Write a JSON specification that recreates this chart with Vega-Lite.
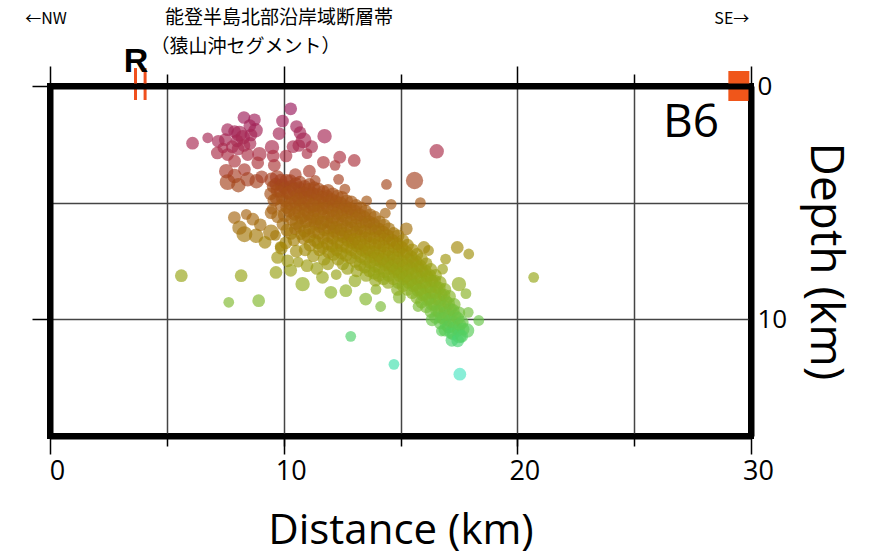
{
"$schema":"https://vega.github.io/schema/vega-lite/v6.json",
"width":701,"height":350,
"autosize":{"type":"none"},
"padding":{"left":50,"top":86,"right":120,"bottom":123},
"background":"white",
"config":{"view":{"stroke":"black","strokeWidth":6},"axis":{"labelFont":"Open Sans","titleFont":"Open Sans","labelColor":"black","titleColor":"black","titleFontWeight":"normal","domainColor":"black","tickColor":"black","labelFlush":false}},
"datasets":{
"quakes":[
{"dist":6.1,"depth":2.45,"mag":2},{"dist":6.75,"depth":2.22,"mag":1.5},{"dist":7.2,"depth":2.37,"mag":2},{"dist":7.6,"depth":1.87,"mag":2},{"dist":8.1,"depth":2.04,"mag":3},{"dist":8.3,"depth":1.35,"mag":2},{"dist":8.75,"depth":1.45,"mag":2},{"dist":8.8,"depth":1.9,"mag":2.5},{"dist":7.5,"depth":2.3,"mag":2},{"dist":8.55,"depth":1.7,"mag":2},{"dist":8.56,"depth":2.46,"mag":2},{"dist":7.16,"depth":2.87,"mag":2},{"dist":7.6,"depth":2.94,"mag":2},{"dist":8.05,"depth":2.7,"mag":2},{"dist":8.46,"depth":2.94,"mag":2},{"dist":8.96,"depth":2.92,"mag":2.5},{"dist":7.9,"depth":3.22,"mag":2},{"dist":8.32,"depth":3.58,"mag":2},{"dist":8.89,"depth":3.29,"mag":2},{"dist":7.54,"depth":3.65,"mag":2.5},{"dist":7.9,"depth":3.86,"mag":2.5},{"dist":7.6,"depth":4.12,"mag":3},{"dist":8.06,"depth":4.25,"mag":2.5},{"dist":8.46,"depth":4.0,"mag":2.5},{"dist":8.84,"depth":4.08,"mag":2.5},{"dist":9.06,"depth":3.89,"mag":2},{"dist":9.6,"depth":3.4,"mag":2},{"dist":9.5,"depth":2.62,"mag":2.5},{"dist":9.8,"depth":2.04,"mag":2},{"dist":9.95,"depth":1.5,"mag":2},{"dist":10.3,"depth":0.98,"mag":2},{"dist":10.55,"depth":1.74,"mag":2},{"dist":10.85,"depth":2.33,"mag":3},{"dist":10.4,"depth":2.6,"mag":2},{"dist":10.1,"depth":3.0,"mag":2},{"dist":9.55,"depth":3.0,"mag":2},{"dist":11.2,"depth":2.6,"mag":2},{"dist":11.75,"depth":2.15,"mag":2.5},{"dist":11.7,"depth":3.27,"mag":2},{"dist":12.4,"depth":3.05,"mag":2},{"dist":13.02,"depth":3.19,"mag":2},{"dist":11.1,"depth":3.65,"mag":2},{"dist":10.5,"depth":3.8,"mag":2},{"dist":12.2,"depth":3.4,"mag":1.5},{"dist":12.35,"depth":4.0,"mag":1.5},{"dist":16.55,"depth":2.8,"mag":2.5},{"dist":15.6,"depth":4.05,"mag":3.5},{"dist":14.4,"depth":4.22,"mag":1.5},{"dist":15.85,"depth":5.0,"mag":1.5},{"dist":14.6,"depth":5.07,"mag":1.5},{"dist":7.9,"depth":1.95,"mag":2},{"dist":8.25,"depth":2.2,"mag":2.5},{"dist":8.0,"depth":2.35,"mag":2},{"dist":8.6,"depth":2.1,"mag":2},{"dist":7.8,"depth":2.6,"mag":2},{"dist":8.3,"depth":2.55,"mag":2},{"dist":7.4,"depth":2.65,"mag":1.5},{"dist":10.7,"depth":2.0,"mag":2},{"dist":10.65,"depth":2.55,"mag":2},{"dist":11.0,"depth":2.9,"mag":1.5},
{"dist":7.89,"depth":5.64,"mag":2},{"dist":8.32,"depth":6.35,"mag":3},{"dist":8.82,"depth":6.42,"mag":2.5},{"dist":9.46,"depth":6.28,"mag":3},{"dist":8.11,"depth":6.07,"mag":2.5},{"dist":8.68,"depth":5.71,"mag":2},{"dist":9.46,"depth":5.43,"mag":2},{"dist":9.74,"depth":7.35,"mag":2},{"dist":9.67,"depth":7.99,"mag":2},{"dist":10.17,"depth":7.49,"mag":2},{"dist":10.81,"depth":8.49,"mag":2.5},{"dist":11.66,"depth":8.2,"mag":2},{"dist":12.02,"depth":8.84,"mag":2},{"dist":12.66,"depth":8.77,"mag":2},{"dist":13.51,"depth":9.13,"mag":2},{"dist":14.15,"depth":9.45,"mag":1.5},{"dist":8.18,"depth":8.13,"mag":2},{"dist":5.62,"depth":8.13,"mag":2},{"dist":7.65,"depth":9.27,"mag":1.5},{"dist":8.93,"depth":9.2,"mag":2},{"dist":9.0,"depth":5.95,"mag":2},{"dist":8.4,"depth":5.5,"mag":1.5},{"dist":9.2,"depth":6.7,"mag":2},{"dist":9.9,"depth":6.95,"mag":2},{"dist":10.3,"depth":7.9,"mag":2},{"dist":11.0,"depth":7.7,"mag":2},
{"dist":17.43,"depth":6.92,"mag":2},{"dist":17.92,"depth":7.2,"mag":1.5},{"dist":16.93,"depth":7.42,"mag":1.5},{"dist":16.0,"depth":6.92,"mag":2},{"dist":17.5,"depth":8.49,"mag":2.5},{"dist":18.35,"depth":10.05,"mag":1.5},{"dist":17.85,"depth":10.48,"mag":2.5},{"dist":12.87,"depth":10.73,"mag":1.5},{"dist":14.72,"depth":11.93,"mag":1.5},{"dist":17.54,"depth":12.35,"mag":2},{"dist":20.7,"depth":8.2,"mag":1.5},
{"dist":11.35,"depth":4.05,"mag":1.5},{"dist":12.62,"depth":4.42,"mag":1.5},{"dist":13.55,"depth":4.92,"mag":1.5},{"dist":14.35,"depth":5.45,"mag":1.5},{"dist":15.25,"depth":6.12,"mag":2},{"dist":16.2,"depth":7.05,"mag":1.5},{"dist":16.8,"depth":7.85,"mag":1.5},{"dist":10.62,"depth":7.55,"mag":1.5},{"dist":11.42,"depth":7.82,"mag":2},{"dist":12.25,"depth":8.08,"mag":1.5},{"dist":13.05,"depth":8.35,"mag":2},{"dist":13.95,"depth":8.72,"mag":1.5},{"dist":14.95,"depth":9.05,"mag":2},{"dist":15.75,"depth":9.45,"mag":1.5},{"dist":16.35,"depth":10.02,"mag":2},{"dist":16.75,"depth":10.5,"mag":1.5},{"dist":17.2,"depth":10.9,"mag":2},{"dist":17.9,"depth":9.7,"mag":1.5},{"dist":17.8,"depth":8.9,"mag":1.5},
{"dist":9.48,"depth":4.02,"mag":2.5},{"dist":9.55,"depth":4.31,"mag":2},{"dist":9.44,"depth":4.62,"mag":2},{"dist":9.58,"depth":4.9,"mag":2},{"dist":9.5,"depth":5.28,"mag":1.5},
{"dist":9.72,"depth":3.92,"mag":2.5},{"dist":9.66,"depth":4.2,"mag":2},{"dist":9.75,"depth":4.48,"mag":2.5},{"dist":9.69,"depth":4.82,"mag":2},{"dist":9.74,"depth":5.6,"mag":2},{"dist":9.65,"depth":6.4,"mag":1.5},
{"dist":9.88,"depth":4.03,"mag":2},{"dist":9.95,"depth":4.27,"mag":2.5},{"dist":9.86,"depth":4.52,"mag":2},{"dist":9.93,"depth":4.78,"mag":2},{"dist":9.9,"depth":5.12,"mag":2},{"dist":9.97,"depth":5.92,"mag":2},{"dist":9.85,"depth":6.88,"mag":1.5},
{"dist":10.12,"depth":4.08,"mag":2.5},{"dist":10.05,"depth":4.37,"mag":2},{"dist":10.15,"depth":4.6,"mag":2},{"dist":10.08,"depth":4.93,"mag":2},{"dist":10.13,"depth":5.21,"mag":2},{"dist":10.06,"depth":5.52,"mag":2.5},{"dist":10.14,"depth":6.18,"mag":2},{"dist":10.09,"depth":6.72,"mag":2},
{"dist":10.28,"depth":4.05,"mag":2},{"dist":10.33,"depth":4.3,"mag":2},{"dist":10.26,"depth":4.57,"mag":2.5},{"dist":10.35,"depth":4.81,"mag":2},{"dist":10.3,"depth":5.07,"mag":2},{"dist":10.24,"depth":5.36,"mag":2},{"dist":10.36,"depth":5.72,"mag":2},{"dist":10.31,"depth":6.32,"mag":2},
{"dist":10.52,"depth":4.18,"mag":2},{"dist":10.46,"depth":4.44,"mag":2.5},{"dist":10.55,"depth":4.71,"mag":2},{"dist":10.49,"depth":4.97,"mag":2},{"dist":10.53,"depth":5.22,"mag":2},{"dist":10.47,"depth":5.5,"mag":2},{"dist":10.56,"depth":5.86,"mag":2.5},{"dist":10.5,"depth":6.12,"mag":2},{"dist":10.44,"depth":6.6,"mag":2},{"dist":10.54,"depth":7.08,"mag":2},
{"dist":10.7,"depth":4.12,"mag":2},{"dist":10.66,"depth":4.36,"mag":2},{"dist":10.74,"depth":4.62,"mag":2},{"dist":10.69,"depth":4.86,"mag":2.5},{"dist":10.72,"depth":5.12,"mag":2},{"dist":10.65,"depth":5.41,"mag":2},{"dist":10.75,"depth":5.66,"mag":2},{"dist":10.68,"depth":6.02,"mag":2},{"dist":10.73,"depth":6.37,"mag":1.5},
{"dist":10.9,"depth":4.3,"mag":2},{"dist":10.86,"depth":4.57,"mag":2},{"dist":10.94,"depth":4.8,"mag":2.5},{"dist":10.88,"depth":5.06,"mag":2},{"dist":10.93,"depth":5.31,"mag":2},{"dist":10.87,"depth":5.57,"mag":2},{"dist":10.95,"depth":5.82,"mag":2},{"dist":10.9,"depth":6.22,"mag":2},{"dist":10.85,"depth":6.52,"mag":2},{"dist":10.92,"depth":7.02,"mag":2},
{"dist":11.1,"depth":4.22,"mag":2},{"dist":11.06,"depth":4.47,"mag":2.5},{"dist":11.14,"depth":4.7,"mag":2},{"dist":11.08,"depth":4.96,"mag":2},{"dist":11.12,"depth":5.21,"mag":2},{"dist":11.05,"depth":5.47,"mag":2},{"dist":11.15,"depth":5.77,"mag":2},{"dist":11.1,"depth":6.1,"mag":2},{"dist":11.07,"depth":6.42,"mag":2.5},{"dist":11.13,"depth":6.82,"mag":2},
{"dist":11.3,"depth":4.36,"mag":2},{"dist":11.26,"depth":4.61,"mag":2},{"dist":11.34,"depth":4.86,"mag":2},{"dist":11.28,"depth":5.11,"mag":2.5},{"dist":11.32,"depth":5.36,"mag":2},{"dist":11.25,"depth":5.62,"mag":2},{"dist":11.35,"depth":5.91,"mag":2},{"dist":11.29,"depth":6.26,"mag":2},{"dist":11.33,"depth":6.62,"mag":2},{"dist":11.27,"depth":7.28,"mag":2},
{"dist":11.5,"depth":4.42,"mag":2},{"dist":11.46,"depth":4.66,"mag":2},{"dist":11.54,"depth":4.91,"mag":2},{"dist":11.48,"depth":5.16,"mag":2},{"dist":11.52,"depth":5.42,"mag":2.5},{"dist":11.45,"depth":5.71,"mag":2},{"dist":11.55,"depth":6.02,"mag":2},{"dist":11.5,"depth":6.31,"mag":2},{"dist":11.47,"depth":6.72,"mag":2},{"dist":11.53,"depth":7.02,"mag":2},
{"dist":11.7,"depth":4.52,"mag":2},{"dist":11.66,"depth":4.76,"mag":2},{"dist":11.74,"depth":5.01,"mag":2},{"dist":11.68,"depth":5.26,"mag":2},{"dist":11.72,"depth":5.56,"mag":2},{"dist":11.65,"depth":5.86,"mag":2.5},{"dist":11.75,"depth":6.16,"mag":2},{"dist":11.7,"depth":6.52,"mag":2},{"dist":11.67,"depth":6.92,"mag":2},{"dist":11.73,"depth":7.42,"mag":2},
{"dist":11.9,"depth":4.47,"mag":2},{"dist":11.86,"depth":4.72,"mag":2},{"dist":11.94,"depth":4.96,"mag":2},{"dist":11.88,"depth":5.22,"mag":2},{"dist":11.92,"depth":5.51,"mag":2},{"dist":11.85,"depth":5.81,"mag":2},{"dist":11.95,"depth":6.06,"mag":2.5},{"dist":11.9,"depth":6.42,"mag":2},{"dist":11.87,"depth":6.76,"mag":2},{"dist":11.93,"depth":7.12,"mag":2},{"dist":11.89,"depth":7.62,"mag":2},
{"dist":12.1,"depth":4.62,"mag":2},{"dist":12.06,"depth":4.86,"mag":2},{"dist":12.14,"depth":5.11,"mag":2},{"dist":12.08,"depth":5.36,"mag":2},{"dist":12.12,"depth":5.62,"mag":2.5},{"dist":12.05,"depth":5.91,"mag":2},{"dist":12.15,"depth":6.22,"mag":2},{"dist":12.1,"depth":6.52,"mag":2},{"dist":12.07,"depth":6.86,"mag":2},{"dist":12.13,"depth":7.22,"mag":2},
{"dist":12.3,"depth":4.72,"mag":2},{"dist":12.26,"depth":4.96,"mag":2},{"dist":12.34,"depth":5.21,"mag":2},{"dist":12.28,"depth":5.46,"mag":2},{"dist":12.32,"depth":5.76,"mag":2},{"dist":12.25,"depth":6.06,"mag":2},{"dist":12.35,"depth":6.36,"mag":2.5},{"dist":12.3,"depth":6.72,"mag":2},{"dist":12.27,"depth":7.02,"mag":2},{"dist":12.33,"depth":7.42,"mag":2},
{"dist":12.5,"depth":4.77,"mag":2},{"dist":12.46,"depth":5.02,"mag":2},{"dist":12.54,"depth":5.31,"mag":2},{"dist":12.48,"depth":5.56,"mag":2},{"dist":12.52,"depth":5.86,"mag":2},{"dist":12.45,"depth":6.16,"mag":2},{"dist":12.55,"depth":6.46,"mag":2},{"dist":12.5,"depth":6.82,"mag":2.5},{"dist":12.47,"depth":7.16,"mag":2},{"dist":12.53,"depth":7.62,"mag":2},
{"dist":12.7,"depth":4.92,"mag":2},{"dist":12.66,"depth":5.16,"mag":2},{"dist":12.74,"depth":5.42,"mag":2},{"dist":12.68,"depth":5.72,"mag":2},{"dist":12.72,"depth":6.02,"mag":2},{"dist":12.65,"depth":6.32,"mag":2},{"dist":12.75,"depth":6.62,"mag":2},{"dist":12.7,"depth":6.92,"mag":2},{"dist":12.67,"depth":7.26,"mag":2},{"dist":12.73,"depth":7.82,"mag":2},
{"dist":12.9,"depth":4.97,"mag":2},{"dist":12.86,"depth":5.26,"mag":2},{"dist":12.94,"depth":5.52,"mag":2},{"dist":12.88,"depth":5.82,"mag":2},{"dist":12.92,"depth":6.12,"mag":2.5},{"dist":12.85,"depth":6.42,"mag":2},{"dist":12.95,"depth":6.72,"mag":2},{"dist":12.9,"depth":7.02,"mag":2},{"dist":12.87,"depth":7.36,"mag":2},
{"dist":13.1,"depth":5.12,"mag":2},{"dist":13.06,"depth":5.36,"mag":2},{"dist":13.14,"depth":5.66,"mag":2},{"dist":13.08,"depth":5.96,"mag":2},{"dist":13.12,"depth":6.26,"mag":2},{"dist":13.05,"depth":6.56,"mag":2},{"dist":13.15,"depth":6.86,"mag":2},{"dist":13.1,"depth":7.16,"mag":2},{"dist":13.07,"depth":7.52,"mag":2},{"dist":13.13,"depth":7.92,"mag":2},
{"dist":13.3,"depth":5.22,"mag":2},{"dist":13.26,"depth":5.52,"mag":2},{"dist":13.34,"depth":5.82,"mag":2},{"dist":13.28,"depth":6.12,"mag":2},{"dist":13.32,"depth":6.42,"mag":2},{"dist":13.25,"depth":6.72,"mag":2.5},{"dist":13.35,"depth":7.02,"mag":2},{"dist":13.3,"depth":7.32,"mag":2},{"dist":13.27,"depth":7.66,"mag":2},
{"dist":13.5,"depth":5.36,"mag":2},{"dist":13.46,"depth":5.62,"mag":2},{"dist":13.54,"depth":5.92,"mag":2},{"dist":13.48,"depth":6.22,"mag":2},{"dist":13.52,"depth":6.52,"mag":2},{"dist":13.45,"depth":6.82,"mag":2},{"dist":13.55,"depth":7.12,"mag":2},{"dist":13.5,"depth":7.42,"mag":2},{"dist":13.47,"depth":7.76,"mag":2},{"dist":13.53,"depth":8.12,"mag":2},
{"dist":13.7,"depth":5.52,"mag":2},{"dist":13.66,"depth":5.82,"mag":2},{"dist":13.74,"depth":6.12,"mag":2},{"dist":13.68,"depth":6.42,"mag":2},{"dist":13.72,"depth":6.72,"mag":2},{"dist":13.65,"depth":7.02,"mag":2},{"dist":13.75,"depth":7.32,"mag":2},{"dist":13.7,"depth":7.56,"mag":2},{"dist":13.67,"depth":7.92,"mag":2},
{"dist":13.9,"depth":5.62,"mag":2},{"dist":13.86,"depth":5.92,"mag":2},{"dist":13.94,"depth":6.22,"mag":2},{"dist":13.88,"depth":6.52,"mag":2},{"dist":13.92,"depth":6.82,"mag":2},{"dist":13.85,"depth":7.12,"mag":2},{"dist":13.95,"depth":7.42,"mag":2.5},{"dist":13.9,"depth":7.72,"mag":2},{"dist":13.87,"depth":8.02,"mag":2},{"dist":13.93,"depth":8.32,"mag":2},
{"dist":14.1,"depth":5.82,"mag":2},{"dist":14.06,"depth":6.12,"mag":2},{"dist":14.14,"depth":6.42,"mag":2},{"dist":14.08,"depth":6.72,"mag":2},{"dist":14.12,"depth":7.02,"mag":2},{"dist":14.05,"depth":7.26,"mag":2},{"dist":14.15,"depth":7.52,"mag":2},{"dist":14.1,"depth":7.82,"mag":2},{"dist":14.07,"depth":8.12,"mag":2},
{"dist":14.3,"depth":5.96,"mag":2},{"dist":14.26,"depth":6.26,"mag":2},{"dist":14.34,"depth":6.56,"mag":2},{"dist":14.28,"depth":6.86,"mag":2},{"dist":14.32,"depth":7.16,"mag":2},{"dist":14.25,"depth":7.42,"mag":2},{"dist":14.35,"depth":7.66,"mag":2},{"dist":14.3,"depth":7.96,"mag":2},{"dist":14.27,"depth":8.26,"mag":2},
{"dist":14.5,"depth":6.12,"mag":2},{"dist":14.46,"depth":6.42,"mag":2},{"dist":14.54,"depth":6.72,"mag":2},{"dist":14.48,"depth":7.02,"mag":2},{"dist":14.52,"depth":7.32,"mag":2},{"dist":14.45,"depth":7.56,"mag":2},{"dist":14.55,"depth":7.82,"mag":2},{"dist":14.5,"depth":8.12,"mag":2},{"dist":14.47,"depth":8.42,"mag":2},
{"dist":14.7,"depth":6.32,"mag":2},{"dist":14.66,"depth":6.62,"mag":2},{"dist":14.74,"depth":6.92,"mag":2},{"dist":14.68,"depth":7.22,"mag":2},{"dist":14.72,"depth":7.46,"mag":2},{"dist":14.65,"depth":7.72,"mag":2},{"dist":14.75,"depth":7.96,"mag":2},{"dist":14.7,"depth":8.26,"mag":2},
{"dist":14.9,"depth":6.42,"mag":2},{"dist":14.86,"depth":6.76,"mag":2},{"dist":14.94,"depth":7.06,"mag":2},{"dist":14.88,"depth":7.36,"mag":2},{"dist":14.92,"depth":7.62,"mag":2},{"dist":14.85,"depth":7.86,"mag":2},{"dist":14.95,"depth":8.12,"mag":2},{"dist":14.9,"depth":8.42,"mag":2},{"dist":14.87,"depth":8.72,"mag":2},
{"dist":15.1,"depth":6.62,"mag":2},{"dist":15.06,"depth":6.92,"mag":2},{"dist":15.14,"depth":7.22,"mag":2},{"dist":15.08,"depth":7.52,"mag":2},{"dist":15.12,"depth":7.76,"mag":2},{"dist":15.05,"depth":8.02,"mag":2},{"dist":15.15,"depth":8.26,"mag":2},{"dist":15.1,"depth":8.56,"mag":2},
{"dist":15.3,"depth":6.82,"mag":2},{"dist":15.26,"depth":7.12,"mag":2},{"dist":15.34,"depth":7.42,"mag":2},{"dist":15.28,"depth":7.66,"mag":2},{"dist":15.32,"depth":7.92,"mag":2},{"dist":15.25,"depth":8.16,"mag":2},{"dist":15.35,"depth":8.42,"mag":2},{"dist":15.3,"depth":8.72,"mag":2},
{"dist":15.5,"depth":7.02,"mag":2},{"dist":15.46,"depth":7.32,"mag":2},{"dist":15.54,"depth":7.56,"mag":2},{"dist":15.48,"depth":7.82,"mag":2},{"dist":15.52,"depth":8.06,"mag":2},{"dist":15.45,"depth":8.32,"mag":2},{"dist":15.55,"depth":8.56,"mag":2},{"dist":15.5,"depth":8.86,"mag":2},
{"dist":15.7,"depth":7.22,"mag":2},{"dist":15.66,"depth":7.52,"mag":2},{"dist":15.74,"depth":7.76,"mag":2},{"dist":15.68,"depth":8.02,"mag":2},{"dist":15.72,"depth":8.26,"mag":2},{"dist":15.65,"depth":8.52,"mag":2},{"dist":15.75,"depth":8.76,"mag":2},{"dist":15.7,"depth":9.06,"mag":2},
{"dist":15.9,"depth":7.42,"mag":2},{"dist":15.86,"depth":7.72,"mag":2},{"dist":15.94,"depth":7.96,"mag":2},{"dist":15.88,"depth":8.22,"mag":2},{"dist":15.92,"depth":8.46,"mag":2},{"dist":15.85,"depth":8.72,"mag":2},{"dist":15.95,"depth":8.96,"mag":2},{"dist":15.9,"depth":9.26,"mag":2},
{"dist":16.1,"depth":7.62,"mag":2},{"dist":16.06,"depth":7.92,"mag":2},{"dist":16.14,"depth":8.16,"mag":2},{"dist":16.08,"depth":8.42,"mag":2},{"dist":16.12,"depth":8.66,"mag":2},{"dist":16.05,"depth":8.92,"mag":2},{"dist":16.15,"depth":9.16,"mag":2},{"dist":16.1,"depth":9.46,"mag":2},
{"dist":16.3,"depth":7.86,"mag":2},{"dist":16.26,"depth":8.12,"mag":2},{"dist":16.34,"depth":8.36,"mag":2},{"dist":16.28,"depth":8.62,"mag":2},{"dist":16.32,"depth":8.86,"mag":2},{"dist":16.25,"depth":9.12,"mag":2},{"dist":16.35,"depth":9.36,"mag":2},{"dist":16.3,"depth":9.66,"mag":2},
{"dist":16.5,"depth":8.12,"mag":2},{"dist":16.46,"depth":8.36,"mag":2},{"dist":16.54,"depth":8.62,"mag":2},{"dist":16.48,"depth":8.86,"mag":2},{"dist":16.52,"depth":9.12,"mag":2},{"dist":16.45,"depth":9.36,"mag":2},{"dist":16.55,"depth":9.62,"mag":2},{"dist":16.5,"depth":9.92,"mag":2},
{"dist":16.7,"depth":8.42,"mag":2},{"dist":16.66,"depth":8.66,"mag":2},{"dist":16.74,"depth":8.92,"mag":2},{"dist":16.68,"depth":9.16,"mag":2},{"dist":16.72,"depth":9.42,"mag":2},{"dist":16.65,"depth":9.66,"mag":2},{"dist":16.75,"depth":9.92,"mag":2},{"dist":16.7,"depth":10.16,"mag":2},
{"dist":16.9,"depth":8.72,"mag":2},{"dist":16.86,"depth":8.96,"mag":2},{"dist":16.94,"depth":9.22,"mag":2},{"dist":16.88,"depth":9.46,"mag":2},{"dist":16.92,"depth":9.72,"mag":2},{"dist":16.85,"depth":9.96,"mag":2},{"dist":16.95,"depth":10.22,"mag":2},{"dist":16.9,"depth":10.46,"mag":2},
{"dist":17.1,"depth":9.02,"mag":2},{"dist":17.06,"depth":9.32,"mag":2},{"dist":17.14,"depth":9.56,"mag":2},{"dist":17.08,"depth":9.82,"mag":2},{"dist":17.12,"depth":10.06,"mag":2},{"dist":17.05,"depth":10.32,"mag":2},{"dist":17.15,"depth":10.56,"mag":2},
{"dist":17.3,"depth":9.36,"mag":2},{"dist":17.26,"depth":9.62,"mag":2},{"dist":17.34,"depth":9.86,"mag":2},{"dist":17.28,"depth":10.12,"mag":2},{"dist":17.32,"depth":10.36,"mag":2},{"dist":17.25,"depth":10.62,"mag":2},
{"dist":17.5,"depth":9.72,"mag":2},{"dist":17.46,"depth":9.96,"mag":2},{"dist":17.54,"depth":10.22,"mag":2},{"dist":17.48,"depth":10.46,"mag":2},{"dist":17.52,"depth":10.72,"mag":2.5},{"dist":17.45,"depth":10.92,"mag":2},
{"dist":17.64,"depth":10.12,"mag":2},{"dist":17.68,"depth":10.42,"mag":2},{"dist":17.62,"depth":10.72,"mag":2}
],
"rmarks":[{"dist":3.66,"top":-0.77,"bottom":0.6},{"dist":4.07,"top":-0.77,"bottom":0.6}],
"site":[{"dist":29.48,"depth":0}],
"notes":[
{"kind":"panel","text":"B6","dist":27.43,"depth":1.57},
{"kind":"r","text":"R","dist":3.68,"depth":-0.6},
{"kind":"jp","text":"能登半島北部沿岸域断層帯","dist":4.92,"depth":-2.92},
{"kind":"jp","text":"（猿山沖セグメント）","dist":4.3,"depth":-1.66},
{"kind":"dir","text":"←NW","dist":-0.17,"depth":-2.88},
{"kind":"dir","text":"SE→","dist":29.18,"depth":-2.88}
]
},
"resolve":{"axis":{"x":"independent","y":"independent"}},
"layer":[
{"data":{"name":"quakes"},
 "mark":{"type":"circle","opacity":0.66},
 "encoding":{
  "x":{"field":"dist","type":"quantitative","scale":{"domain":[0,30],"nice":false,"zero":false},
   "axis":{"orient":"bottom","values":[0,10,20,30],"tickSize":18,"tickWidth":1.5,"grid":false,"domainWidth":6,"labelFontSize":27,"labelPadding":4,"labelOffset":7,"title":"Distance (km)","titleFontSize":42,"titlePadding":26,"zindex":1}},
  "y":{"field":"depth","type":"quantitative","scale":{"domain":[0,15],"reverse":true,"nice":false,"zero":false},
   "axis":{"orient":"right","values":[0,10],"tickSize":0,"grid":false,"domainWidth":6,"labelFontSize":26,"labelPadding":6,"title":"Depth (km)","titleAngle":90,"titleFontSize":46,"titlePadding":14,"zindex":1}},
  "color":{"field":"depth","type":"quantitative","legend":null,
   "scale":{"domain":[1,2.5,4.2,6,7.5,9,10.5,12.4],"range":["#9a1a5c","#a82a52","#a4461c","#a46e0e","#9e9810","#86b426","#56cc58","#4ee6c4"]}},
  "size":{"field":"mag","type":"quantitative","legend":null,"scale":{"domain":[1,3.5],"range":[70,300]}}
 }},
{"data":{"name":"rmarks"},
 "mark":{"type":"rule","color":"#f0501e","strokeWidth":3},
 "encoding":{
  "x":{"field":"dist","type":"quantitative","scale":{"domain":[0,30],"nice":false,"zero":false},
   "axis":{"orient":"top","values":[0,10,20,30],"tickSize":20,"tickWidth":1.5,"labels":false,"grid":false,"domainWidth":6,"title":null,"zindex":1}},
  "y":{"field":"top","type":"quantitative","scale":{"domain":[0,15],"reverse":true,"nice":false,"zero":false},
   "axis":{"orient":"left","values":[0,10],"tickSize":18,"tickWidth":1.5,"labels":false,"grid":false,"domainWidth":6,"title":null,"zindex":1}},
  "y2":{"field":"bottom"}
 }},
{"data":{"name":"notes"},
 "transform":[{"filter":"datum.kind === 'panel'"}],
 "mark":{"type":"text","font":"Open Sans","fontSize":46,"align":"center","baseline":"middle","color":"black"},
 "encoding":{
  "x":{"field":"dist","type":"quantitative","scale":{"domain":[0,30],"nice":false,"zero":false},
   "axis":{"orient":"bottom","values":[5,10,15,20,25],"tickSize":10,"tickWidth":1.5,"labels":false,"domain":false,"grid":true,"gridColor":"#444444","gridWidth":1.5,"title":null,"zindex":0}},
  "y":{"field":"depth","type":"quantitative","scale":{"domain":[0,15],"reverse":true,"nice":false,"zero":false},
   "axis":{"orient":"right","values":[5,10],"ticks":false,"labels":false,"domain":false,"grid":true,"gridColor":"#444444","gridWidth":1.5,"title":null,"zindex":0}},
  "text":{"field":"text"}
 }},
{"data":{"name":"site"},
 "mark":{"type":"point","shape":"M-0.7,-1L0.7,-1L0.7,1L-0.7,1Z","filled":true,"color":"#f0561a","opacity":1,"size":900},
 "encoding":{
  "x":{"field":"dist","type":"quantitative","scale":{"domain":[0,30],"nice":false,"zero":false},
   "axis":{"orient":"top","values":[5,15,25],"tickSize":12,"tickWidth":1.5,"labels":false,"domain":false,"grid":false,"title":null,"zindex":1}},
  "y":{"field":"depth","type":"quantitative","scale":{"domain":[0,15],"reverse":true,"nice":false,"zero":false},"axis":null}
 }},
{"data":{"name":"notes"},
 "transform":[{"filter":"datum.kind === 'r'"}],
 "mark":{"type":"text","font":"Liberation Sans","fontWeight":"bold","fontSize":34,"align":"center","baseline":"alphabetic","color":"black"},
 "encoding":{
  "x":{"field":"dist","type":"quantitative","scale":{"domain":[0,30],"nice":false,"zero":false},"axis":null},
  "y":{"field":"depth","type":"quantitative","scale":{"domain":[0,15],"reverse":true,"nice":false,"zero":false},"axis":null},
  "text":{"field":"text"}
 }},
{"data":{"name":"notes"},
 "transform":[{"filter":"datum.kind === 'jp'"}],
 "mark":{"type":"text","font":"Noto Sans CJK JP","fontSize":19,"align":"left","baseline":"middle","color":"black"},
 "encoding":{
  "x":{"field":"dist","type":"quantitative","scale":{"domain":[0,30],"nice":false,"zero":false},"axis":null},
  "y":{"field":"depth","type":"quantitative","scale":{"domain":[0,15],"reverse":true,"nice":false,"zero":false},"axis":null},
  "text":{"field":"text"}
 }},
{"data":{"name":"notes"},
 "transform":[{"filter":"datum.kind === 'dir'"}],
 "mark":{"type":"text","font":"Noto Sans CJK JP","fontSize":16,"align":"center","baseline":"middle","color":"black"},
 "encoding":{
  "x":{"field":"dist","type":"quantitative","scale":{"domain":[0,30],"nice":false,"zero":false},"axis":null},
  "y":{"field":"depth","type":"quantitative","scale":{"domain":[0,15],"reverse":true,"nice":false,"zero":false},"axis":null},
  "text":{"field":"text"}
 }}
]
}
